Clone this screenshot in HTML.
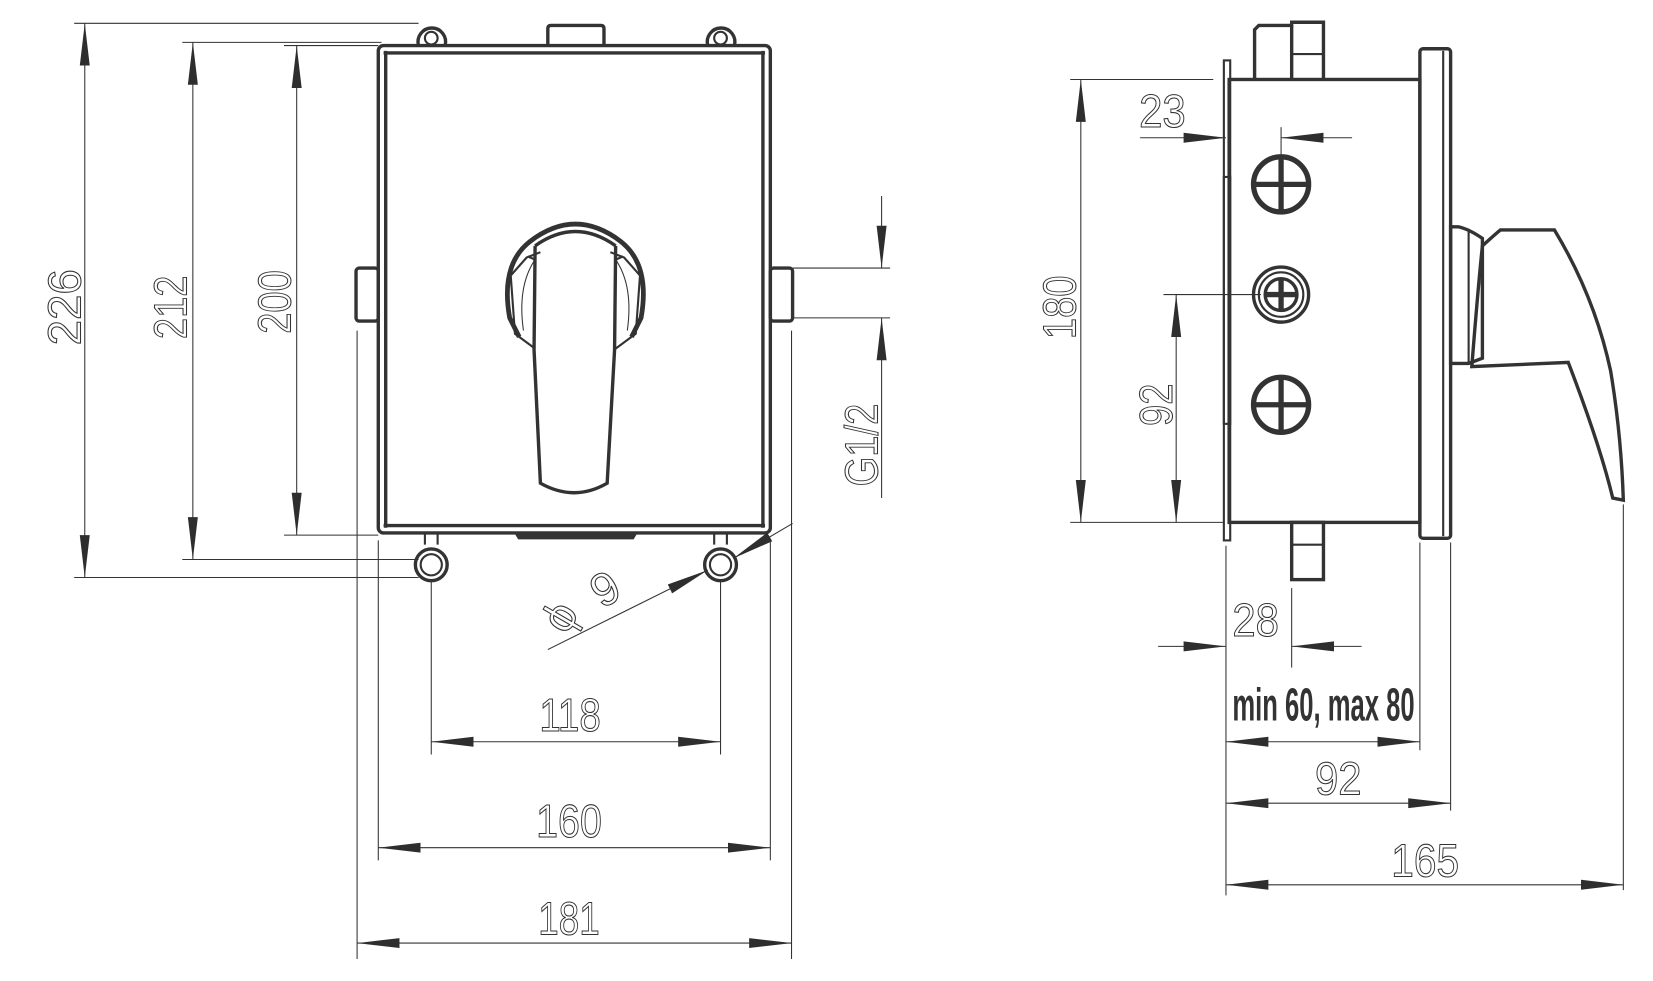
<!DOCTYPE html>
<html><head><meta charset="utf-8"><style>html,body{margin:0;padding:0;background:#fff}svg{display:block}</style></head><body>
<svg width="1653" height="981" viewBox="0 0 1560 925.8" preserveAspectRatio="none" xmlns="http://www.w3.org/2000/svg">
<defs>
<marker id="a" markerUnits="userSpaceOnUse" markerWidth="40" markerHeight="12" refX="34" refY="5" orient="auto-start-reverse" viewBox="0 0 34 10"><path d="M0,1 L34,5 L0,9 Z" fill="#2e2e2e"/></marker>
</defs>
<style>
.t{stroke:#333;stroke-width:1;fill:none}
.k{stroke:#333;stroke-width:3.2;fill:none}
.m{stroke:#333;stroke-width:2;fill:none}
.d{stroke:#333;stroke-width:1;fill:none;marker-start:url(#a);marker-end:url(#a)}
.e{stroke:#333;stroke-width:1;fill:none;marker-end:url(#a)}
text{font-family:"Liberation Sans",sans-serif;font-size:44px;fill:#fff;stroke:#333;stroke-width:1}
</style>

<!-- LEFT VIEW -->
<rect x="357" y="43" width="370" height="460" rx="5" class="k"/>
<line x1="364" y1="48" x2="364" y2="498" class="k"/>
<line x1="720" y1="48" x2="720" y2="498" class="k"/>
<line x1="362" y1="50" x2="722" y2="50" class="k"/>
<line x1="362" y1="496" x2="722" y2="496" class="k"/>
<path d="M517,43 V27 Q517,24 520,24 H567 Q570,24 570,27 V43" class="k"/>
<path d="M486,504 H601 L598,509 H489 Z" fill="#333"/>
<rect x="336" y="253" width="21" height="50" rx="3" class="k"/>
<rect x="727" y="253" width="21" height="50" rx="3" class="k"/>
<!-- top ears -->
<path d="M395,43 A13,13 0 1 1 420,43" class="k"/><circle cx="407" cy="36" r="6" class="m"/>
<path d="M668,43 A13,13 0 1 1 693,43" class="k"/><circle cx="680" cy="36" r="6" class="m"/>
<!-- bottom ears -->
<path d="M401,503 V514 M413,503 V514" class="m"/><circle cx="407" cy="533" r="15" class="k"/><circle cx="407" cy="533" r="10" class="m"/>
<path d="M674,503 V514 M686,503 V514" class="m"/><circle cx="680" cy="533" r="15" class="k"/><circle cx="680" cy="533" r="10" class="m"/>
<!-- handle ring -->
<path d="M490,318 L481,300 Q472,250 500,228 Q543,195 586,228 Q614,250 605,300 L596,318" class="k" style="stroke-width:4.5"/>
<path d="M505,329 L486,315 L482,260 L497,243 L510,238 M581,329 L600,315 L604,260 L589,243 L576,238" class="m"/>
<path d="M494,312 Q488,270 505,245 M592,312 Q598,270 581,245" class="t"/>
<path d="M505,232 Q543,205 581,232" class="k"/>
<!-- lever -->
<path d="M505,232 L504,330 L510,456 Q542,474 573,456 L580,330 L581,232" class="k"/>
<path d="M498,242 L505,245 M588,242 L581,245" class="m"/>

<!-- left dims -->
<line x1="70" y1="22" x2="395" y2="22" class="t"/>
<line x1="70" y1="545" x2="395" y2="545" class="t"/>
<line x1="80" y1="22" x2="80" y2="545" class="d"/>
<line x1="172" y1="40" x2="360" y2="40" class="t"/>
<line x1="172" y1="528" x2="395" y2="528" class="t"/>
<line x1="182" y1="40" x2="182" y2="528" class="d"/>
<line x1="268" y1="43" x2="357" y2="43" class="t"/>
<line x1="268" y1="505" x2="357" y2="505" class="t"/>
<line x1="280" y1="43" x2="280" y2="505" class="d"/>
<text transform="translate(76,290) rotate(-90)" text-anchor="middle" textLength="72" lengthAdjust="spacingAndGlyphs">226</text>
<text transform="translate(176,290) rotate(-90)" text-anchor="middle" textLength="60" lengthAdjust="spacingAndGlyphs">212</text>
<text transform="translate(274,285) rotate(-90)" text-anchor="middle" textLength="60" lengthAdjust="spacingAndGlyphs">200</text>
<!-- G1/2 -->
<line x1="748" y1="253" x2="840" y2="253" class="t"/>
<line x1="748" y1="300" x2="840" y2="300" class="t"/>
<line x1="832" y1="185" x2="832" y2="253" class="e"/>
<line x1="832" y1="470" x2="832" y2="300" class="e"/>
<text transform="translate(828,420) rotate(-90)" text-anchor="middle" textLength="78" lengthAdjust="spacingAndGlyphs">G1/2</text>
<!-- phi 9 -->
<line x1="517" y1="613" x2="668" y2="538" class="e"/>
<line x1="748" y1="494" x2="692" y2="527" class="e"/>
<text transform="translate(535,600) rotate(-60)" font-size="38">ϕ</text>
<text transform="translate(568,575) rotate(-30)" font-size="38">9</text>
<!-- horizontal dims -->
<line x1="407" y1="548" x2="407" y2="712" class="t"/>
<line x1="680" y1="548" x2="680" y2="712" class="t"/>
<line x1="407" y1="700" x2="680" y2="700" class="d"/>
<text x="538" y="690" text-anchor="middle" textLength="58" lengthAdjust="spacingAndGlyphs">118</text>
<line x1="357" y1="510" x2="357" y2="812" class="t"/>
<line x1="727" y1="510" x2="727" y2="812" class="t"/>
<line x1="357" y1="800" x2="727" y2="800" class="d"/>
<text x="537" y="790" text-anchor="middle" textLength="62" lengthAdjust="spacingAndGlyphs">160</text>
<line x1="337" y1="312" x2="337" y2="905" class="t"/>
<line x1="747" y1="312" x2="747" y2="905" class="t"/>
<line x1="337" y1="890" x2="747" y2="890" class="d"/>
<text x="537" y="882" text-anchor="middle" textLength="58" lengthAdjust="spacingAndGlyphs">181</text>

<!-- RIGHT VIEW -->
<rect x="1155" y="57" width="6" height="453" class="m"/>
<rect x="1155" y="167" width="6" height="233" class="m"/>
<rect x="1160" y="75" width="180" height="418" class="k"/>
<rect x="1340" y="46" width="29" height="462" rx="3" class="k"/>
<line x1="1362" y1="48" x2="1362" y2="506" class="m"/>
<path d="M1184,75 V28 L1188,24 H1219 V21 H1249 V75" class="k"/>
<line x1="1219" y1="24" x2="1219" y2="75" class="k"/>
<line x1="1219" y1="51" x2="1249" y2="51" class="m"/>
<rect x="1219" y="493" width="30" height="54" class="k"/>
<line x1="1219" y1="514" x2="1249" y2="514" class="m"/>
<!-- screws -->
<ellipse cx="1209" cy="174" rx="26" ry="26" class="k" style="stroke-width:5"/>
<path d="M1183,174 H1235 M1209,148 V200" class="k" style="stroke-width:5"/>
<ellipse cx="1209" cy="278" rx="26" ry="26" class="k"/>
<ellipse cx="1209" cy="278" rx="21" ry="21" class="m"/>
<ellipse cx="1209" cy="278" rx="15" ry="15" class="k"/>
<path d="M1194,278 H1224 M1209,263 V293" class="k" style="stroke-width:5"/>
<ellipse cx="1209" cy="382" rx="26" ry="26" class="k" style="stroke-width:5"/>
<path d="M1183,382 H1235 M1209,356 V408" class="k" style="stroke-width:5"/>
<!-- handle -->
<path d="M1369,214 H1376 Q1386,216 1399,225 L1399,338 L1386,343 H1369 Z" class="k"/>
<path d="M1386,216 V343" class="m"/>
<path d="M1399,232 Q1410,222 1416,217 H1467 Q1505,280 1520,350 Q1530,410 1532,472 L1522,470 Q1510,420 1480,342 L1389,346 Q1395,270 1399,232 Z" class="k"/>
<!-- right dims -->
<line x1="1010" y1="75" x2="1145" y2="75" class="t"/>
<line x1="1010" y1="493" x2="1155" y2="493" class="t"/>
<line x1="1020" y1="75" x2="1020" y2="493" class="d"/>
<text transform="translate(1015,290) rotate(-90)" text-anchor="middle" textLength="60" lengthAdjust="spacingAndGlyphs">180</text>
<line x1="1076" y1="130" x2="1157" y2="130" class="e"/>
<line x1="1276" y1="130" x2="1209" y2="130" class="e"/>
<line x1="1209" y1="120" x2="1209" y2="148" class="t"/>
<text x="1097" y="120" text-anchor="middle" textLength="44" lengthAdjust="spacingAndGlyphs">23</text>
<line x1="1098" y1="278" x2="1190" y2="278" class="t"/>
<line x1="1110" y1="278" x2="1110" y2="493" class="d"/>
<text transform="translate(1106,382) rotate(-90)" text-anchor="middle" textLength="40" lengthAdjust="spacingAndGlyphs">92</text>
<line x1="1093" y1="610" x2="1157" y2="610" class="e"/>
<line x1="1285" y1="610" x2="1219" y2="610" class="e"/>
<line x1="1219" y1="555" x2="1219" y2="630" class="t"/>
<text x="1185" y="600" text-anchor="middle" textLength="44" lengthAdjust="spacingAndGlyphs">28</text>
<line x1="1157" y1="515" x2="1157" y2="845" class="t"/>
<line x1="1340" y1="512" x2="1340" y2="708" class="t"/>
<line x1="1369" y1="512" x2="1369" y2="765" class="t"/>
<line x1="1532" y1="476" x2="1532" y2="840" class="t"/>
<line x1="1157" y1="700" x2="1340" y2="700" class="d"/>
<text x="1249" y="680" text-anchor="middle" font-family="Liberation Mono,monospace" font-size="28" font-weight="bold" style="fill:#333;stroke:none" textLength="172" lengthAdjust="spacingAndGlyphs">min 60, max 80</text>
<line x1="1157" y1="758" x2="1369" y2="758" class="d"/>
<text x="1263" y="750" text-anchor="middle" textLength="44" lengthAdjust="spacingAndGlyphs">92</text>
<line x1="1157" y1="835" x2="1532" y2="835" class="d"/>
<text x="1345" y="827" text-anchor="middle" textLength="64" lengthAdjust="spacingAndGlyphs">165</text>
</svg>
</body></html>
